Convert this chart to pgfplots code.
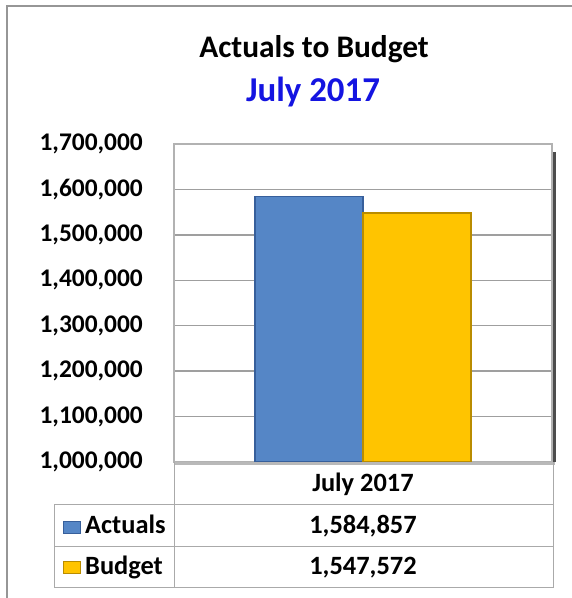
\documentclass[border=0pt]{standalone}
\usepackage{fontspec}
\setmainfont{Carlito}
\usepackage{pgfplots}
\pgfplotsset{compat=1.18}
\definecolor{actblue}{RGB}{85,134,198}
\definecolor{actedge}{RGB}{55,95,155}
\definecolor{budgold}{RGB}{255,196,0}
\definecolor{budedge}{RGB}{185,140,0}
\definecolor{titleblue}{RGB}{20,20,225}
\definecolor{framegray}{RGB}{150,150,150}
\definecolor{linegray}{RGB}{170,170,170}
\newcommand{\tabfont}{\bfseries\fontsize{26.5}{31}\selectfont}
\newcommand{\tickfont}{\bfseries\fontsize{25.5}{30}\selectfont}

\begin{document}
\begin{tikzpicture}
\useasboundingbox (0,0) rectangle (572bp,598bp);
% outer chart frame (cropped at right and bottom)
\draw[framegray, line width=1.5bp] (7bp,0) -- (7bp,592bp) -- (572bp,592bp);

% titles
\node[anchor=base, inner sep=0pt, font=\bfseries\fontsize{31.5}{36}\selectfont]
  at (314bp,540bp) {Actuals to Budget};
\node[anchor=base, inner sep=0pt, text=titleblue, font=\bfseries\fontsize{35}{40}\selectfont]
  at (313bp,496bp) {July 2017};

\begin{axis}[
  at={(174bp,136bp)}, anchor=south west,
  width=378bp, height=318bp, scale only axis,
  ybar=0pt, bar width=108bp,
  xmin=-1, xmax=1, xtick=\empty,
  ymin=1000000, ymax=1700000, ytick distance=100000,
  scaled y ticks=false,
  ymajorgrids, grid style={gray!75, line width=1.3bp},
  axis line style={gray!60, line width=1.8bp},
  major tick length=0pt,
  /pgf/number format/fixed,
  /pgf/number format/1000 sep={,},
  /pgf/number format/assume math mode=true,
  yticklabel style={font=\tickfont, inner sep=0pt, anchor=east, xshift=-31bp},
]
  \addplot[fill=actblue, draw=actedge, line width=1.6bp] coordinates {(0,1584857)};
  \addplot[fill=budgold, draw=budedge, line width=1.6bp] coordinates {(0,1547572)};
\end{axis}

% 3D shadow of the plot frame
\draw[gray!60!black, line width=3bp] (554bp,136bp) -- (554bp,446bp);
\draw[gray!55, line width=2.5bp] (175bp,134.5bp) -- (555bp,134.5bp);

% data table
\draw[linegray, line width=1bp]
  (174bp,136bp) -- (174bp,10bp)
  (553bp,136bp) -- (553bp,10bp)
  (54bp,93bp) -- (54bp,10bp)
  (54bp,93bp) -- (553bp,93bp)
  (54bp,51bp) -- (553bp,51bp)
  (54bp,10bp) -- (553bp,10bp);

\node[anchor=base, inner sep=0pt, font=\tabfont] at (363bp,106bp) {July 2017};
\node[anchor=base, inner sep=0pt, font=\tabfont] at (363bp,64bp) {1,584,857};
\node[anchor=base, inner sep=0pt, font=\tabfont] at (363bp,24bp) {1,547,572};

% legend keys
\fill[actblue, draw=actedge, line width=1bp] (63bp,64bp) rectangle (80bp,76bp);
\fill[budgold, draw=budedge, line width=1bp] (63bp,24bp) rectangle (80bp,36bp);
\node[anchor=base west, inner sep=0pt, font=\tabfont] at (85bp,64bp) {Actuals};
\node[anchor=base west, inner sep=0pt, font=\tabfont] at (85bp,24bp) {Budget};
\end{tikzpicture}
\end{document}
